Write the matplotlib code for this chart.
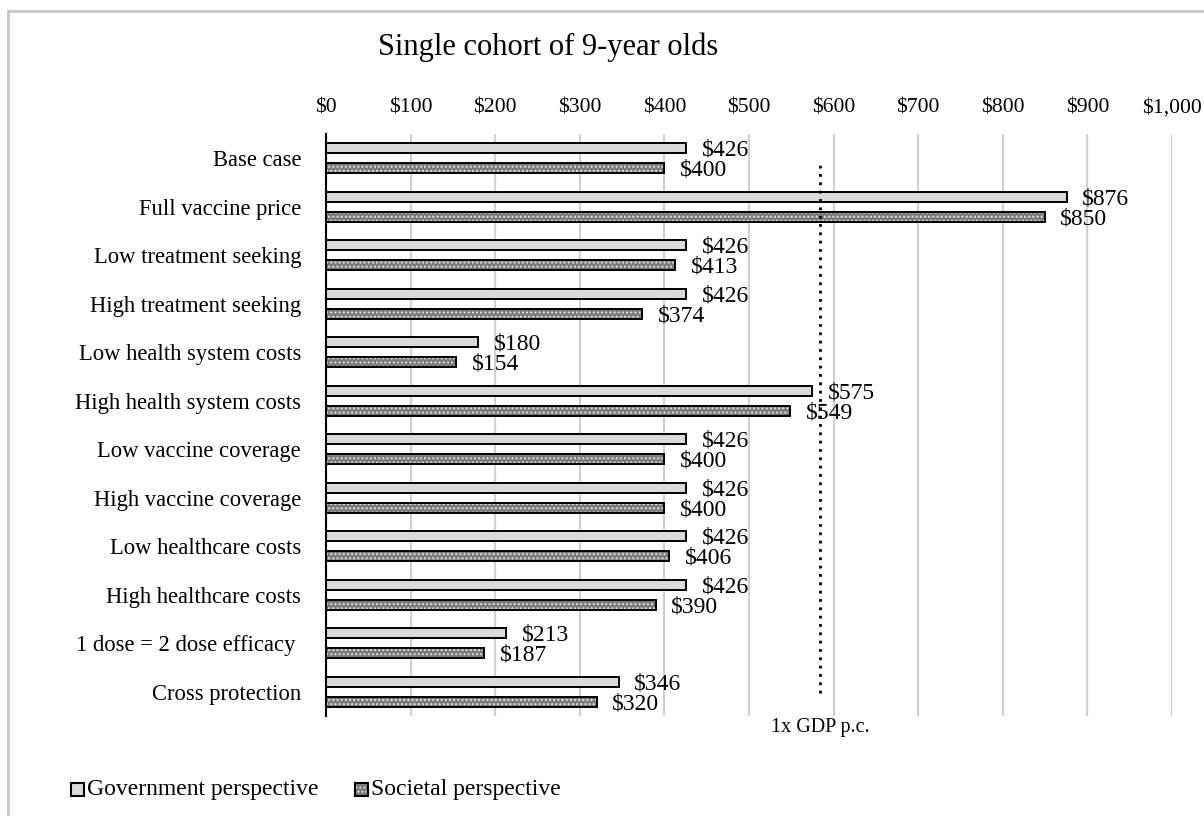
import matplotlib
matplotlib.use("Agg")
import matplotlib.pyplot as plt
import numpy as np
from matplotlib.patches import Rectangle
from matplotlib.lines import Line2D

categories = ["Base case", "Full vaccine price", "Low treatment seeking", "High treatment seeking",
              "Low health system costs", "High health system costs", "Low vaccine coverage",
              "High vaccine coverage", "Low healthcare costs", "High healthcare costs",
              "1 dose = 2 dose efficacy ", "Cross protection"]
government = [426, 876, 426, 426, 180, 575, 426, 426, 426, 426, 213, 346]
societal = [400, 850, 413, 374, 154, 549, 400, 400, 406, 390, 187, 320]
gdp_threshold = 584
xticks = list(range(0, 1001, 100))
xticklabels = ["$0", "$100", "$200", "$300", "$400", "$500", "$600", "$700", "$800", "$900", "$1,000"]

plt.rcParams['font.family'] = ['Liberation Serif', 'DejaVu Serif']

fig = plt.figure(figsize=(12.04, 8.16), dpi=100)
ax = fig.add_axes([0.2708, 0.1225, 0.7026, 0.7133])

y = np.arange(len(categories))
h = 0.21
off = 0.205
# Government bars
ax.barh(y - off, government, height=h, color='#dadada', edgecolor='black', linewidth=1.4, zorder=3)
# Societal bars: patterned
ax.barh(y + off, societal, height=h, color='#7a7a7a', edgecolor='#e0e0e0', hatch='....', linewidth=0, zorder=3)
ax.barh(y + off, societal, height=h, color='none', edgecolor='black', linewidth=1.4, zorder=4)

for yi, v in zip(y, government):
    ax.annotate(f"${v}", (v, yi - off), xytext=(11, -1.5), textcoords='offset points',
                va='center', ha='left', fontsize=17)
for yi, v in zip(y, societal):
    ax.annotate(f"${v}", (v, yi + off), xytext=(11, -1.5), textcoords='offset points',
                va='center', ha='left', fontsize=17)

ax.axvline(gdp_threshold, ymin=0.04, ymax=0.955, color='black', linestyle=(0, (1, 2)), linewidth=2, zorder=5)
ax.text(gdp_threshold, len(categories) - 0.5 + 0.05, "1x GDP p.c.", ha='center', va='top', fontsize=14.5)

ax.set_xlim(0, 1000)
ax.set_ylim(len(categories) - 0.5, -0.5)
ax.set_xticks(xticks)
ax.set_xticklabels(xticklabels, fontsize=15.7)
ax.xaxis.tick_top()
ax.tick_params(axis='x', length=0, pad=12)
ax.set_yticks(y)
ax.set_yticklabels(categories, fontsize=16.3)
ax.tick_params(axis='y', length=0, pad=18)
ax.grid(axis='x', color='#d0d0d0', linewidth=1.5, zorder=0)
for s in ['top', 'right', 'bottom']:
    ax.spines[s].set_visible(False)
ax.spines['left'].set_linewidth(1.5)
ax.spines['left'].set_zorder(6)

fig.text(0.455, 1 - 47/816, "Single cohort of 9-year olds", ha='center', va='center', fontsize=22)

# Figure border (top and left only)
fig.lines.append(Line2D([8/1204, 8/1204], [0, 1 - 11/816], transform=fig.transFigure,
                        color='#c8c8c8', linewidth=2))
fig.lines.append(Line2D([8/1204, 1], [1 - 11/816, 1 - 11/816], transform=fig.transFigure,
                        color='#c8c8c8', linewidth=2))

# Legend
fig.patches.append(Rectangle((71/1204, 1 - 796/816), 13/1204, 13/816, transform=fig.transFigure,
                             facecolor='#dadada', edgecolor='black', linewidth=1.5))
fig.text(87/1204, 1 - 789/816, "Government perspective", ha='left', va='center', fontsize=17)
fig.patches.append(Rectangle((355/1204, 1 - 796/816), 13/1204, 13/816, transform=fig.transFigure,
                             facecolor='#7a7a7a', edgecolor='#e0e0e0', hatch='....', linewidth=0))
fig.patches.append(Rectangle((355/1204, 1 - 796/816), 13/1204, 13/816, transform=fig.transFigure,
                             fill=False, edgecolor='black', linewidth=1.5))
fig.text(371/1204, 1 - 789/816, "Societal perspective", ha='left', va='center', fontsize=17)

fig.savefig("out.png", dpi=100)
